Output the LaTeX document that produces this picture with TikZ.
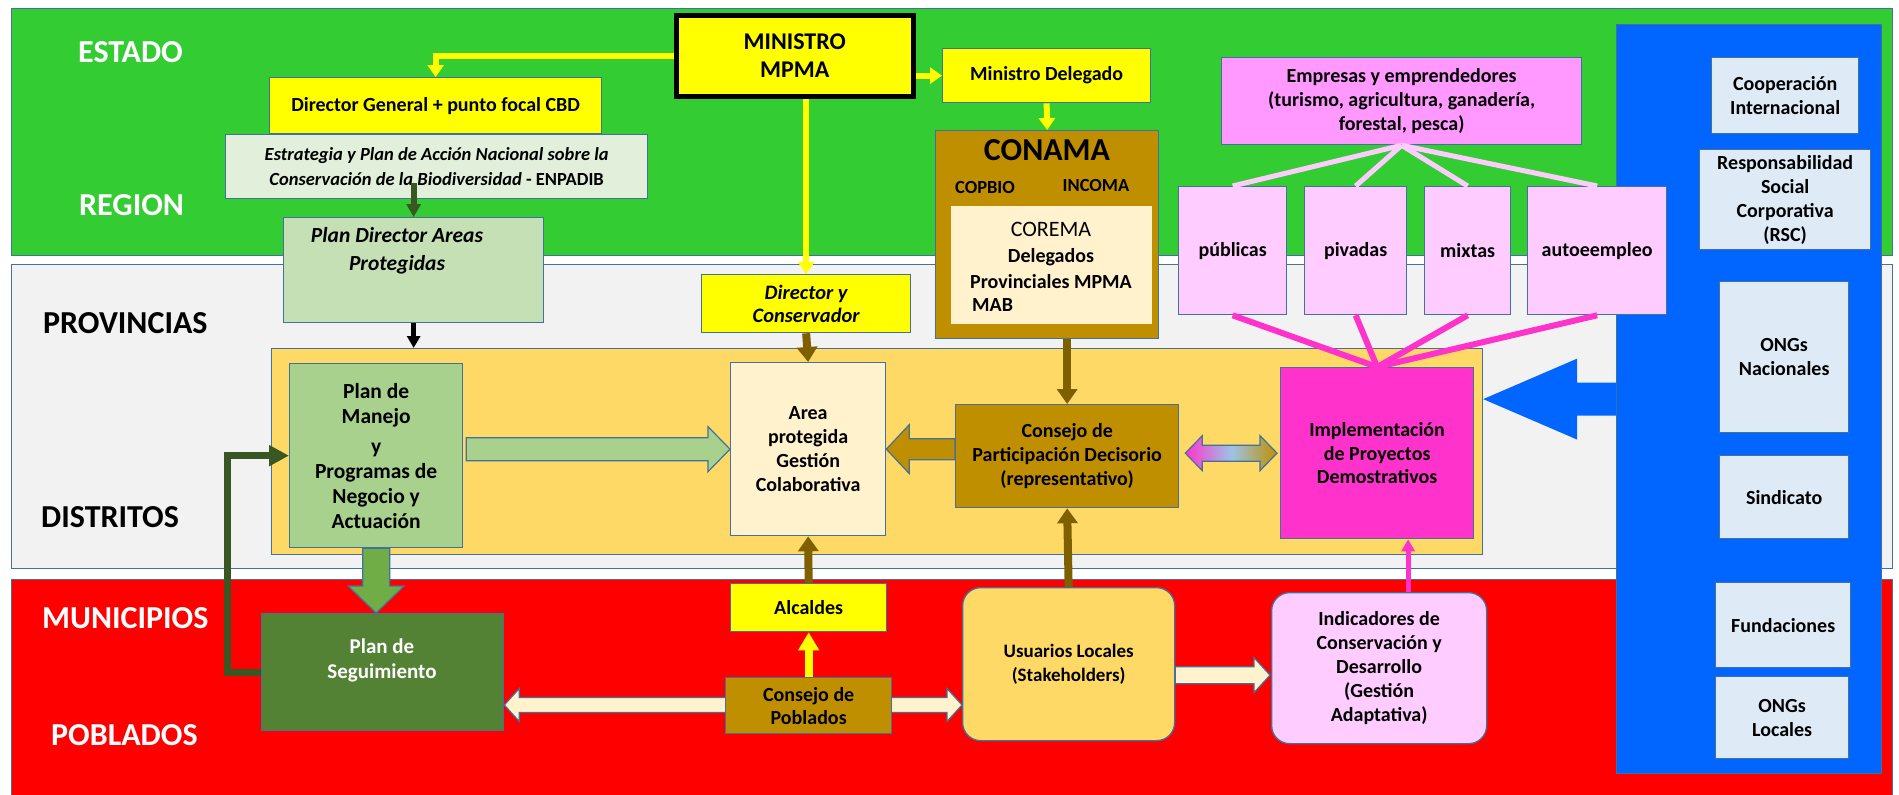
\documentclass[tikz,border=0pt]{standalone}
\usepackage{fontspec}
\setmainfont{Carlito}
\usetikzlibrary{arrows.meta,calc}
\definecolor{bordc}{HTML}{41719C}
\definecolor{gband}{HTML}{33CC33}
\definecolor{greyband}{HTML}{F2F2F2}
\definecolor{rband}{HTML}{FF0000}
\definecolor{bluep}{HTML}{0066FF}
\definecolor{yel}{HTML}{FFFF00}
\definecolor{enpa}{HTML}{E2EFDA}
\definecolor{pdirc}{HTML}{C5E0B4}
\definecolor{contc}{HTML}{FFD966}
\definecolor{pmc}{HTML}{A9D18E}
\definecolor{cream}{HTML}{FFF2CC}
\definecolor{brownc}{HTML}{BF8F00}
\definecolor{darkbrown}{HTML}{7F6000}
\definecolor{magc}{HTML}{FF33CC}
\definecolor{empc}{HTML}{FF99FF}
\definecolor{lpink}{HTML}{FFCCFF}
\definecolor{psc}{HTML}{548235}
\definecolor{garrow}{HTML}{70AD47}
\definecolor{dkgreen}{HTML}{385723}
\definecolor{lblue}{HTML}{DEEBF7}
\definecolor{gradmid}{HTML}{9DC3E6}
\definecolor{gradgold}{HTML}{BF9000}
\newcommand\ArrRight[6]{\path[#6] let \p1=(#1), \p2=(#2) in (\x1,\y2+#3) -- (\x2-#5,\y2+#3) -- (\x2-#5,\y2+#4) -- (\x2,\y2) -- (\x2-#5,\y2-#4) -- (\x2-#5,\y2-#3) -- (\x1,\y2-#3) -- cycle;}
\newcommand\ArrLeft[6]{\path[#6] let \p1=(#1), \p2=(#2) in (\x1,\y2+#3) -- (\x2+#5,\y2+#3) -- (\x2+#5,\y2+#4) -- (\x2,\y2) -- (\x2+#5,\y2-#4) -- (\x2+#5,\y2-#3) -- (\x1,\y2-#3) -- cycle;}
\newcommand\ArrDown[6]{\path[#6] let \p1=(#1), \p2=(#2) in (\x1+#3,\y1) -- (\x1+#3,\y2+#5) -- (\x1+#4,\y2+#5) -- (\x1,\y2) -- (\x1-#4,\y2+#5) -- (\x1-#3,\y2+#5) -- (\x1-#3,\y1) -- cycle;}
\newcommand\ArrBoth[6]{\path[#6] let \p1=(#1), \p2=(#2) in (\x1,\y2) -- (\x1+#5,\y2+#4) -- (\x1+#5,\y2+#3) -- (\x2-#5,\y2+#3) -- (\x2-#5,\y2+#4) -- (\x2,\y2) -- (\x2-#5,\y2-#4) -- (\x2-#5,\y2-#3) -- (\x1+#5,\y2-#3) -- (\x1+#5,\y2-#4) -- cycle;}
\begin{document}
\begin{tikzpicture}[x=1pt,y=-1pt,
  box/.style={draw=bordc, line width=1.3pt, anchor=north west, inner sep=0pt, align=center, text=black, font=\bfseries\fontsize{20}{24}\selectfont},
  band/.style={draw=bordc, line width=1.2pt, anchor=north west, inner sep=0pt},
  lbl/.style={anchor=west, inner sep=0pt, font=\bfseries\fontsize{32}{34}\selectfont},
  txt/.style={inner sep=0pt, align=center, font=\bfseries\fontsize{20}{24}\selectfont},
  ylw/.style={draw=yel, line width=6pt, -{Triangle[length=12pt,width=16pt]}},
  brw/.style={draw=darkbrown, line width=8pt, -{Triangle[length=15pt,width=20pt]}},
  blk/.style={draw=black, line width=5pt, -{Triangle[length=12pt,width=13pt]}},
  dgr/.style={draw=dkgreen, line width=6pt, -{Triangle[length=13pt,width=14pt]}},
  fbk/.style={draw=dkgreen, line width=7pt, -{Triangle[length=20pt,width=20pt]}},
  pkl/.style={draw=lpink, line width=5pt},
  mgl/.style={draw=magc, line width=6pt},
  mga/.style={draw=magc, line width=5pt, -{Triangle[length=12pt,width=13pt]}},
  blockar/.style={draw=bordc, line width=1.2pt}
]
\useasboundingbox (0,0) rectangle (1899,795);
\fill[white] (0,0) rectangle (1899,795);
% bands
\node[band, fill=gband, minimum width=1881, minimum height=247] (estado) at (11,8) {};
\node[band, fill=greyband, minimum width=1881, minimum height=304] (provs) at (11,264) {};
\node[band, fill=rband, minimum width=1881, minimum height=230] (munis) at (11,579) {};
% region labels
\node[lbl, text=white] (lestado) at (78,52) {ESTADO};
\node[lbl, text=white] (lregion) at (79,205) {REGION};
\node[lbl, text=black] (lprov) at (43,323) {PROVINCIAS};
\node[lbl, text=black] (ldist) at (41,517) {DISTRITOS};
\node[lbl, text=white] (lmuni) at (42,618) {MUNICIPIOS};
\node[lbl, text=white] (lpobl) at (51,735) {POBLADOS};
% blue panel
\node[band, fill=bluep, minimum width=265, minimum height=749] (bluep) at (1616,24) {};
\node[box, fill=lblue, minimum width=147, minimum height=76] (coop) at (1711,57) {Cooperación\\Internacional};
\node[box, fill=lblue, minimum width=171, minimum height=100] (rsc) at (1699,149) {Responsabilidad\\Social\\Corporativa\\(RSC)};
\node[box, fill=lblue, minimum width=129, minimum height=151] (ongn) at (1719,281) {ONGs\\Nacionales};
\node[box, fill=lblue, minimum width=129, minimum height=83] (sind) at (1719,455) {Sindicato};
\node[box, fill=lblue, minimum width=135, minimum height=85] (fund) at (1715,582) {Fundaciones};
\node[box, fill=lblue, minimum width=133, minimum height=82] (ongl) at (1715,676) {ONGs\\Locales};
% district container
\node[band, fill=contc, minimum width=1211, minimum height=206] (distr) at (271,348) {};
% top boxes
\node[box, draw=black, line width=4.5pt, fill=yel, minimum width=237, minimum height=81, font=\bfseries\fontsize{24}{28}\selectfont] (ministro) at (674,13) {MINISTRO\\MPMA};
\node[box, fill=yel, minimum width=332, minimum height=56] (dg) at (269,77) {Director General + punto focal CBD};
\node[box, fill=enpa, minimum width=422, minimum height=64, font=\bfseries\fontsize{18.5}{25}\selectfont] (enpadib) at (225,134) {\itshape Estrategia y Plan de Acción Nacional sobre la\\{\itshape Conservación de la Biodiversidad} - ENPADIB};
\node[box, fill=pdirc, minimum width=260, minimum height=105] (pdir) at (283,217) {};
\node[txt, font=\bfseries\itshape\fontsize{21.5}{28}\selectfont] (tpdir) at (397,251) {Plan Director Areas\\Protegidas};
\node[box, fill=yel, minimum width=208, minimum height=54] (deleg) at (942,48) {Ministro Delegado};
\node[box, fill=brownc, minimum width=223, minimum height=208] (conama) at (935,130) {};
\node[txt, font=\bfseries\fontsize{32}{34}\selectfont] (tconama) at (1047,150) {CONAMA};
\node[txt, font=\bfseries\fontsize{18.5}{22}\selectfont] (tcopbio) at (985,187) {COPBIO};
\node[txt, font=\bfseries\fontsize{18.5}{22}\selectfont] (tincoma) at (1096,185) {INCOMA};
\node[box, draw=none, fill=cream, minimum width=201, minimum height=118] (corema) at (950,205) {};
\node[txt, font=\fontsize{22}{24}\selectfont] (tcorema) at (1051,229) {COREMA};
\node[txt] (tdeleg) at (1051,257) {Delegados};
\node[txt] (tprovmpma) at (1051,282) {Provinciales MPMA};
\node[txt, anchor=west] (tmab) at (972,305) {MAB};
\node[box, fill=empc, minimum width=360, minimum height=87] (emp) at (1221,57) {Empresas y emprendedores\\(turismo, agricultura, ganadería,\\forestal, pesca)};
\node[box, fill=lpink, minimum width=108, minimum height=128] (pub) at (1178,186) {públicas};
\node[box, fill=lpink, minimum width=102, minimum height=128] (piv) at (1304,186) {pivadas};
\node[box, fill=lpink, minimum width=86, minimum height=128] (mix) at (1424,186) {mixtas};
\node[box, fill=lpink, minimum width=139, minimum height=128] (auto) at (1527,186) {autoeempleo};
\node[box, fill=yel, minimum width=209, minimum height=58, font=\bfseries\itshape\fontsize{20.5}{23}\selectfont] (dc) at (701,274) {Director y\\Conservador};
% district boxes
\node[box, fill=pmc, minimum width=173, minimum height=184, font=\bfseries\fontsize{21.5}{25}\selectfont] (pm) at (289,363) {Plan de\\Manejo\\[5pt]y\\Programas de\\Negocio y\\Actuación};
\node[box, fill=cream, minimum width=155, minimum height=173] (area) at (730,362) {Area\\protegida\\Gestión\\Colaborativa};
\node[box, fill=brownc, minimum width=223, minimum height=103] (cp) at (955,404) {Consejo de\\Participación Decisorio\\(representativo)};
\node[box, fill=magc, minimum width=193, minimum height=171, font=\bfseries\fontsize{20}{23.5}\selectfont] (impl) at (1280,367) {Implementación\\de Proyectos\\Demostrativos};
% municipal boxes
\node[box, fill=psc, minimum width=242, minimum height=117] (ps) at (261,613) {};
\node[txt, text=white, font=\bfseries\fontsize{21}{25}\selectfont] (tps) at (382,660) {Plan de\\Seguimiento};
\node[box, fill=contc, minimum width=212, minimum height=153, rounded corners=18pt, font=\bfseries\fontsize{19}{24}\selectfont] (usu) at (962,587) {Usuarios Locales\\(Stakeholders)};
\node[box, fill=lpink, minimum width=215, minimum height=151, rounded corners=18pt] (ind) at (1271,592) {Indicadores de\\Conservación y\\Desarrollo\\(Gestión\\Adaptativa)};
\ArrBoth{ps.east |- 0,705}{usu.west |- 0,705}{7.5pt}{16.5pt}{15pt}{blockar, fill=cream}
\node[box, fill=brownc, minimum width=166, minimum height=56, font=\bfseries\fontsize{20}{23}\selectfont] (cpob) at (725,677) {Consejo de\\Poblados};
\node[box, fill=yel, minimum width=156, minimum height=48] (alc) at (730,583) {Alcaldes};
% block arrows
\ArrRight{$(pm.east)+(3,0)$}{area.west}{11.5pt}{22.5pt}{22pt}{blockar, fill=pmc}
\ArrLeft{cp.west}{area.east}{10.5pt}{24.5pt}{23pt}{blockar, fill=brownc}
\ArrBoth{$(cp.east)+(6,0)$}{$(impl.west)+(-3,0)$}{8pt}{17.5pt}{17pt}{blockar, left color=magc, right color=gradgold, middle color=gradmid}
\ArrDown{pm.south}{ps.north}{13.5pt}{28pt}{27pt}{blockar, fill=garrow}
\ArrRight{usu.east}{$(ind.west)+(-1,7)$}{8.5pt}{17.5pt}{16pt}{blockar, fill=cream}
\ArrLeft{bluep.west}{distr.east |- bluep.west}{16.5pt}{40.5pt}{94pt}{fill=bluep}
% connectors
\draw[ylw] (ministro.west) -| (dg.north);
\draw[ylw] (ministro.east |- deleg.west) -- (deleg.west);
\draw[ylw] (ministro.south -| dc.north) -- (dc.north);
\draw[ylw] (deleg.south) -- (conama.north);
\draw[dgr] ($(pdir.north)+(0,-34)$) -- (pdir.north);
\draw[blk] (pdir.south) -- (pdir.south |- distr.north);
\draw[brw] (dc.south) -- (area.north);
\draw[brw] (conama.south -| cp.north) -- (cp.north);
\draw[brw] (usu.north) -- (cp.south);
\draw[brw] (alc.north) -- (area.south);
\draw[ylw, line width=8pt, -{Triangle[length=18pt,width=20pt]}] (cpob.north) -- (alc.south);
\draw[mga] (ind.north -| impl.south) ++(31,0) coordinate (indtop) -- (indtop |- impl.south);
\draw[fbk] (ps.west) -- ++(-34,0) |- (pm.west);
\foreach \b in {pub,piv,mix,auto}{
  \draw[pkl] (emp.south) -- (\b.north);
  \draw[mgl] (\b.south) -- (impl.north);
}
\end{tikzpicture}
\end{document}
